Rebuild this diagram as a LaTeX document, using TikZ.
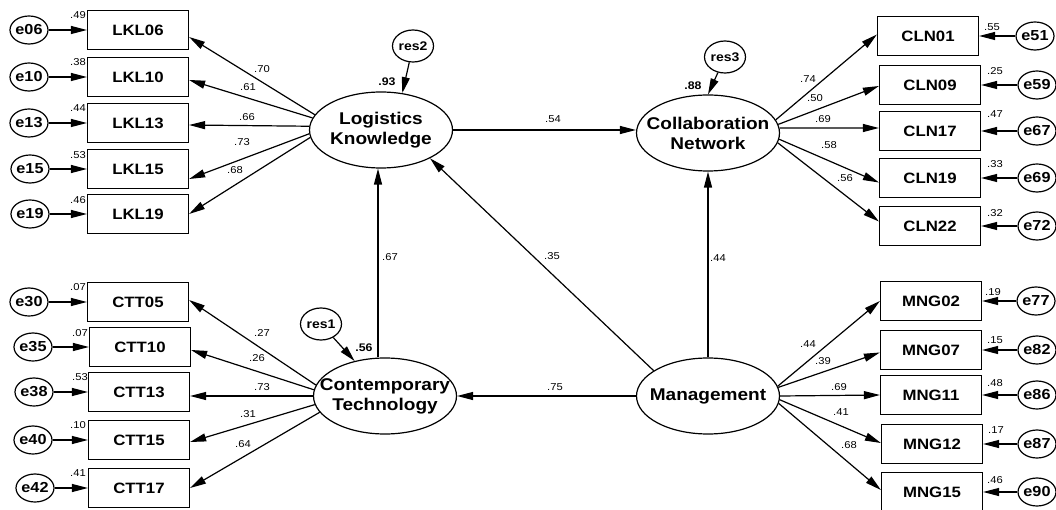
\documentclass[tikz,border=0pt]{standalone}
\usepackage{fontspec}
\setmainfont{Liberation Sans}[FakeStretch=1.12]
\usetikzlibrary{shapes.geometric,arrows.meta}
\begin{document}
\begin{tikzpicture}[x=1pt,y=-1pt,
  lw/.style={line width=1.2pt},
  obs/.style={draw, lw, rectangle, minimum width=101pt, minimum height=39pt, inner sep=0pt, font=\fontsize{15}{17}\selectfont\bfseries},
  lat/.style={draw, lw, ellipse, minimum width=143pt, minimum height=76pt, inner sep=0pt},
  lattxt/.style={align=center, font=\fontsize{17}{20}\selectfont\bfseries, inner sep=0pt},
  err/.style={draw, lw, ellipse, minimum width=38pt, minimum height=28pt, inner sep=0pt, label={[font=\fontsize{14.5}{16}\selectfont\bfseries, inner sep=0pt]center:#1}},
  res/.style={draw, lw, ellipse, minimum width=41pt, minimum height=32pt, inner sep=0pt, label={[font=\fontsize{12.5}{14}\selectfont\bfseries, inner sep=0pt]center:#1}},
  arr/.style={lw, -{Triangle[length=16pt,width=8pt]}},
  num/.style={font=\fontsize{10}{12}\selectfont, inner sep=0pt},
  bnum/.style={font=\fontsize{11}{13}\selectfont\bfseries, inner sep=0pt}
]
\useasboundingbox (0,0) rectangle (1056,510);

% latent variables
\node[lat, label={[lattxt]center:Logistics\\Knowledge}] (LK) at (381,130) {};
\node[lat, label={[lattxt]center:Collaboration\\Network}] (CN) at (708,133) {};
\node[lat, label={[lattxt]center:Contemporary\\Technology}] (CT) at (385,396) {};
\node[lat, label={[lattxt]center:Management}] (MG) at (708,396) {};

% residuals
\node[res=res2] (res2) at (413,46) {};
\node[res=res3] (res3) at (725,57) {};
\node[res=res1] (res1) at (321,324) {};
\draw[arr] (res2) -- (LK.60);
\draw[arr] (res3) -- (CN.north);
\draw[arr] (res1) -- (CT.131);
\node[bnum] (r2v) at (387,82) {.93};
\node[bnum] (r3v) at (693,86) {.88};
\node[bnum] (r1v) at (364,348) {.56};

% left indicators
\foreach \n/\x/\y/\en/\ex/\v/\vx/\vy in {
  LKL06/138/30/e06/29/.49/78/15,
  LKL10/138/77/e10/29/.38/78/62,
  LKL13/138/123/e13/29/.44/78/108,
  LKL15/138/169/e15/30/.53/78/155,
  LKL19/138/214/e19/30/.46/78/200,
  CTT05/138/302/e30/29/.07/78/287,
  CTT10/140/347/e35/33/.07/80/333,
  CTT13/139/392/e38/34/.53/80/377,
  CTT15/139/440/e40/33/.10/78/425,
  CTT17/139/488/e42/35/.41/78/473}{
  \node[obs] (\n) at (\x,\y) {\n};
  \node[err=\en] (\en) at (\ex,\y) {};
  \draw[arr] (\en) -- (\n);
  \node[num] (v\n) at (\vx,\vy) {\v};
}

% right indicators
\foreach \n/\x/\y/\en/\ex/\v/\vx/\vy in {
  CLN01/928/36/e51/1035/.55/992/27,
  CLN09/930/85/e59/1037/.25/995/71,
  CLN17/930/131/e67/1037/.47/995/114,
  CLN19/930/178/e69/1037/.33/995/164,
  CLN22/930/226/e72/1037/.32/995/213,
  MNG02/931/301/e77/1036/.19/993/292,
  MNG07/931/350/e82/1037/.15/995/340,
  MNG11/931/395/e86/1037/.48/995/383,
  MNG12/932/444/e87/1037/.17/996/430,
  MNG15/932/492/e90/1037/.46/995/480}{
  \node[obs] (\n) at (\x,\y) {\n};
  \node[err=\en] (\en) at (\ex,\y) {};
  \draw[arr] (\en) -- (\n);
  \node[num] (v\n) at (\vx,\vy) {\v};
}

% loadings
\foreach \n/\a/\s/\l/\lx/\ly in {
  LKL06/167/-7/.70/262/69,
  LKL10/170/-3/.61/248/87,
  LKL13/177/-2/.66/247/117,
  LKL15/183/-10/.73/242/142,
  LKL19/186/0/.68/235/170}{
  \draw[arr] (LK.\a) -- ([yshift=\s pt]\n.east);
  \node[num] (l\n) at (\lx,\ly) {\l};
}
\foreach \n/\a/\s/\l/\lx/\ly in {
  CTT05/171/2/.27/262/333,
  CTT10/175/-3/.26/257/358,
  CTT13/180/-4/.73/262/387,
  CTT15/187/-2/.31/248/414,
  CTT17/194/0/.64/243/444}{
  \draw[arr] (CT.\a) -- ([yshift=\s pt]\n.east);
  \node[num] (l\n) at (\lx,\ly) {\l};
}
\foreach \n/\a/\s/\l/\lx/\ly in {
  CLN01/11/1.5/.74/808/79,
  CLN09/7/-1/.50/815/98,
  CLN17/4/3/.69/823/119,
  CLN19/-5/-4.5/.58/829/145,
  CLN22/-8/4.5/.56/845/178}{
  \draw[arr] (CN.\a) -- ([yshift=\s pt]\n.west);
  \node[num] (l\n) at (\lx,\ly) {\l};
}
\foreach \n/\a/\s/\l/\lx/\ly in {
  MNG02/8/0/.44/808/344,
  MNG07/7/-2.5/.39/823/361,
  MNG11/0/0/.69/839/387,
  MNG12/-3/1/.41/841/412,
  MNG15/-6/2/.68/849/445}{
  \draw[arr] (MG.\a) -- ([yshift=\s pt]\n.west);
  \node[num] (l\n) at (\lx,\ly) {\l};
}

% structural paths
\coordinate (vx) at (378,0);
\draw[arr] (LK.east) -- (LK.east -| CN.west);
\draw[arr] (vx |- CT.north) -- (vx |- LK.south);
\draw[arr] (MG.155) -- (LK.-30);
\draw[arr] (MG.north) -- (CN.south);
\draw[arr] (MG.west) -- (CT.east);
\node[num] (p54) at (553,119) {.54};
\node[num] (p67) at (390,257) {.67};
\node[num] (p35) at (552,256) {.35};
\node[num] (p44) at (718,258) {.44};
\node[num] (p75) at (555,387) {.75};
\end{tikzpicture}
\end{document}
